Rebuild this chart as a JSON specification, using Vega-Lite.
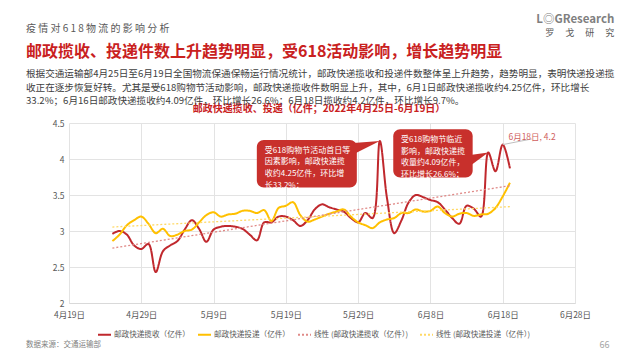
{
  "$schema": "https://vega.github.io/schema/vega-lite/v6.json",
  "background": "white",
  "padding": {"left": 26, "top": 13, "right": 0, "bottom": 0},
  "config": {
    "font": "Noto Sans CJK SC",
    "view": {"stroke": null},
    "concat": {"spacing": 0},
    "title": {"font": "Noto Sans CJK SC", "subtitleFont": "Noto Sans CJK SC"}
  },
  "title": {"text": "L◎GResearch", "subtitle": "罗　 戈　 研　 究", "anchor": "end", "frame": "bounds", "fontSize": 11.5, "color": "#7f7f7f", "fontWeight": "bold", "subtitleFontSize": 9, "subtitleColor": "#595959", "subtitlePadding": 4, "offset": 0, "dy": 14},
  "vconcat": [{
    "title": {"text": "66", "orient": "bottom", "anchor": "end", "frame": "bounds", "fontSize": 9, "color": "#a6a6a6", "fontWeight": "normal", "offset": 0, "dy": -8, "dx": -5},
    "vconcat": [{
      "title": {"text": "数据来源：交通运输部", "orient": "bottom", "anchor": "start", "frame": "bounds", "fontSize": 7.5, "color": "#7f7f7f", "fontWeight": "normal", "offset": 2},
      "vconcat": [{
        "title": {"text": "疫 情 对 6 1 8 物 流 的 影 响 分 析", "subtitle": "邮政揽收、投递件数上升趋势明显，受618活动影响，增长趋势明显", "anchor": "start", "frame": "bounds", "fontSize": 10, "color": "#595959", "fontWeight": "normal", "subtitleFontSize": 16, "subtitleFontWeight": "bold", "subtitleColor": "#c9211e", "subtitlePadding": 10, "offset": 9},
        "vconcat": [{
          "title": {"text": ["根据交通运输部4月25日至6月19日全国物流保通保畅运行情况统计，邮政快递揽收和投递件数整体呈上升趋势，趋势明显，表明快递投递揽", "收正在逐步恢复好转。尤其是受618购物节活动影响，邮政快递揽收件数明显上升，其中，6月1日邮政快递揽收约4.25亿件，环比增长", "33.2%；6月16日邮政快递揽收约4.09亿件，环比增长26.6%；6月18日揽收约4.2亿件，环比增长9.7%。"], "anchor": "start", "frame": "bounds", "fontSize": 9.6, "color": "#404040", "fontWeight": "normal", "lineHeight": 13.5, "offset": -2},
          "resolve": {"scale": {"color": "independent", "strokeDash": "independent"}},
          "vconcat": [{
            "width": 506,
            "height": 180,
            "title": {"text": "邮政快递揽收、投递（亿件；2022年4月25日-6月19日）", "fontSize": 10, "fontWeight": "bold", "color": "#c9211e", "anchor": "middle", "frame": "group", "offset": 5, "dx": -3},
            "data": {
              "format": {"parse": {"date": "date"}},
              "values": [
                {"date": "2022-04-25", "series": "邮政快递揽收（亿件）", "trend": "线性 (邮政快递揽收（亿件）)", "value": 2.96},
                {"date": "2022-04-26", "series": "邮政快递揽收（亿件）", "trend": "线性 (邮政快递揽收（亿件）)", "value": 3.0},
                {"date": "2022-04-27", "series": "邮政快递揽收（亿件）", "trend": "线性 (邮政快递揽收（亿件）)", "value": 2.95},
                {"date": "2022-04-28", "series": "邮政快递揽收（亿件）", "trend": "线性 (邮政快递揽收（亿件）)", "value": 2.8},
                {"date": "2022-04-29", "series": "邮政快递揽收（亿件）", "trend": "线性 (邮政快递揽收（亿件）)", "value": 2.75},
                {"date": "2022-04-30", "series": "邮政快递揽收（亿件）", "trend": "线性 (邮政快递揽收（亿件）)", "value": 2.82},
                {"date": "2022-05-01", "series": "邮政快递揽收（亿件）", "trend": "线性 (邮政快递揽收（亿件）)", "value": 2.43},
                {"date": "2022-05-02", "series": "邮政快递揽收（亿件）", "trend": "线性 (邮政快递揽收（亿件）)", "value": 2.72},
                {"date": "2022-05-03", "series": "邮政快递揽收（亿件）", "trend": "线性 (邮政快递揽收（亿件）)", "value": 2.8},
                {"date": "2022-05-04", "series": "邮政快递揽收（亿件）", "trend": "线性 (邮政快递揽收（亿件）)", "value": 2.86},
                {"date": "2022-05-05", "series": "邮政快递揽收（亿件）", "trend": "线性 (邮政快递揽收（亿件）)", "value": 3.02},
                {"date": "2022-05-06", "series": "邮政快递揽收（亿件）", "trend": "线性 (邮政快递揽收（亿件）)", "value": 3.15},
                {"date": "2022-05-07", "series": "邮政快递揽收（亿件）", "trend": "线性 (邮政快递揽收（亿件）)", "value": 3.03},
                {"date": "2022-05-08", "series": "邮政快递揽收（亿件）", "trend": "线性 (邮政快递揽收（亿件）)", "value": 2.85},
                {"date": "2022-05-09", "series": "邮政快递揽收（亿件）", "trend": "线性 (邮政快递揽收（亿件）)", "value": 3.02},
                {"date": "2022-05-10", "series": "邮政快递揽收（亿件）", "trend": "线性 (邮政快递揽收（亿件）)", "value": 3.06},
                {"date": "2022-05-11", "series": "邮政快递揽收（亿件）", "trend": "线性 (邮政快递揽收（亿件）)", "value": 3.07},
                {"date": "2022-05-12", "series": "邮政快递揽收（亿件）", "trend": "线性 (邮政快递揽收（亿件）)", "value": 3.06},
                {"date": "2022-05-13", "series": "邮政快递揽收（亿件）", "trend": "线性 (邮政快递揽收（亿件）)", "value": 3.03},
                {"date": "2022-05-14", "series": "邮政快递揽收（亿件）", "trend": "线性 (邮政快递揽收（亿件）)", "value": 2.95},
                {"date": "2022-05-15", "series": "邮政快递揽收（亿件）", "trend": "线性 (邮政快递揽收（亿件）)", "value": 2.87},
                {"date": "2022-05-16", "series": "邮政快递揽收（亿件）", "trend": "线性 (邮政快递揽收（亿件）)", "value": 3.12},
                {"date": "2022-05-17", "series": "邮政快递揽收（亿件）", "trend": "线性 (邮政快递揽收（亿件）)", "value": 3.12},
                {"date": "2022-05-18", "series": "邮政快递揽收（亿件）", "trend": "线性 (邮政快递揽收（亿件）)", "value": 3.2},
                {"date": "2022-05-19", "series": "邮政快递揽收（亿件）", "trend": "线性 (邮政快递揽收（亿件）)", "value": 3.2},
                {"date": "2022-05-20", "series": "邮政快递揽收（亿件）", "trend": "线性 (邮政快递揽收（亿件）)", "value": 3.15},
                {"date": "2022-05-21", "series": "邮政快递揽收（亿件）", "trend": "线性 (邮政快递揽收（亿件）)", "value": 3.07},
                {"date": "2022-05-22", "series": "邮政快递揽收（亿件）", "trend": "线性 (邮政快递揽收（亿件）)", "value": 3.15},
                {"date": "2022-05-23", "series": "邮政快递揽收（亿件）", "trend": "线性 (邮政快递揽收（亿件）)", "value": 3.3},
                {"date": "2022-05-24", "series": "邮政快递揽收（亿件）", "trend": "线性 (邮政快递揽收（亿件）)", "value": 3.37},
                {"date": "2022-05-25", "series": "邮政快递揽收（亿件）", "trend": "线性 (邮政快递揽收（亿件）)", "value": 3.33},
                {"date": "2022-05-26", "series": "邮政快递揽收（亿件）", "trend": "线性 (邮政快递揽收（亿件）)", "value": 3.3},
                {"date": "2022-05-27", "series": "邮政快递揽收（亿件）", "trend": "线性 (邮政快递揽收（亿件）)", "value": 3.27},
                {"date": "2022-05-28", "series": "邮政快递揽收（亿件）", "trend": "线性 (邮政快递揽收（亿件）)", "value": 3.18},
                {"date": "2022-05-29", "series": "邮政快递揽收（亿件）", "trend": "线性 (邮政快递揽收（亿件）)", "value": 3.12},
                {"date": "2022-05-30", "series": "邮政快递揽收（亿件）", "trend": "线性 (邮政快递揽收（亿件）)", "value": 3.25},
                {"date": "2022-05-31", "series": "邮政快递揽收（亿件）", "trend": "线性 (邮政快递揽收（亿件）)", "value": 3.18},
                {"date": "2022-06-01", "series": "邮政快递揽收（亿件）", "trend": "线性 (邮政快递揽收（亿件）)", "value": 4.25},
                {"date": "2022-06-02", "series": "邮政快递揽收（亿件）", "trend": "线性 (邮政快递揽收（亿件）)", "value": 3.45},
                {"date": "2022-06-03", "series": "邮政快递揽收（亿件）", "trend": "线性 (邮政快递揽收（亿件）)", "value": 2.97},
                {"date": "2022-06-04", "series": "邮政快递揽收（亿件）", "trend": "线性 (邮政快递揽收（亿件）)", "value": 3.15},
                {"date": "2022-06-05", "series": "邮政快递揽收（亿件）", "trend": "线性 (邮政快递揽收（亿件）)", "value": 3.4},
                {"date": "2022-06-06", "series": "邮政快递揽收（亿件）", "trend": "线性 (邮政快递揽收（亿件）)", "value": 3.5},
                {"date": "2022-06-07", "series": "邮政快递揽收（亿件）", "trend": "线性 (邮政快递揽收（亿件）)", "value": 3.47},
                {"date": "2022-06-08", "series": "邮政快递揽收（亿件）", "trend": "线性 (邮政快递揽收（亿件）)", "value": 3.43},
                {"date": "2022-06-09", "series": "邮政快递揽收（亿件）", "trend": "线性 (邮政快递揽收（亿件）)", "value": 3.4},
                {"date": "2022-06-10", "series": "邮政快递揽收（亿件）", "trend": "线性 (邮政快递揽收（亿件）)", "value": 3.3},
                {"date": "2022-06-11", "series": "邮政快递揽收（亿件）", "trend": "线性 (邮政快递揽收（亿件）)", "value": 3.18},
                {"date": "2022-06-12", "series": "邮政快递揽收（亿件）", "trend": "线性 (邮政快递揽收（亿件）)", "value": 3.1},
                {"date": "2022-06-13", "series": "邮政快递揽收（亿件）", "trend": "线性 (邮政快递揽收（亿件）)", "value": 3.35},
                {"date": "2022-06-14", "series": "邮政快递揽收（亿件）", "trend": "线性 (邮政快递揽收（亿件）)", "value": 3.31},
                {"date": "2022-06-15", "series": "邮政快递揽收（亿件）", "trend": "线性 (邮政快递揽收（亿件）)", "value": 3.2},
                {"date": "2022-06-16", "series": "邮政快递揽收（亿件）", "trend": "线性 (邮政快递揽收（亿件）)", "value": 4.09},
                {"date": "2022-06-17", "series": "邮政快递揽收（亿件）", "trend": "线性 (邮政快递揽收（亿件）)", "value": 3.83},
                {"date": "2022-06-18", "series": "邮政快递揽收（亿件）", "trend": "线性 (邮政快递揽收（亿件）)", "value": 4.2},
                {"date": "2022-06-19", "series": "邮政快递揽收（亿件）", "trend": "线性 (邮政快递揽收（亿件）)", "value": 3.87},
                {"date": "2022-04-25", "series": "邮政快递投递（亿件）", "trend": "线性 (邮政快递投递（亿件）)", "value": 2.86},
                {"date": "2022-04-26", "series": "邮政快递投递（亿件）", "trend": "线性 (邮政快递投递（亿件）)", "value": 2.95},
                {"date": "2022-04-27", "series": "邮政快递投递（亿件）", "trend": "线性 (邮政快递投递（亿件）)", "value": 3.08},
                {"date": "2022-04-28", "series": "邮政快递投递（亿件）", "trend": "线性 (邮政快递投递（亿件）)", "value": 3.15},
                {"date": "2022-04-29", "series": "邮政快递投递（亿件）", "trend": "线性 (邮政快递投递（亿件）)", "value": 3.2},
                {"date": "2022-04-30", "series": "邮政快递投递（亿件）", "trend": "线性 (邮政快递投递（亿件）)", "value": 3.1},
                {"date": "2022-05-01", "series": "邮政快递投递（亿件）", "trend": "线性 (邮政快递投递（亿件）)", "value": 2.97},
                {"date": "2022-05-02", "series": "邮政快递投递（亿件）", "trend": "线性 (邮政快递投递（亿件）)", "value": 3.03},
                {"date": "2022-05-03", "series": "邮政快递投递（亿件）", "trend": "线性 (邮政快递投递（亿件）)", "value": 2.93},
                {"date": "2022-05-04", "series": "邮政快递投递（亿件）", "trend": "线性 (邮政快递投递（亿件）)", "value": 2.95},
                {"date": "2022-05-05", "series": "邮政快递投递（亿件）", "trend": "线性 (邮政快递投递（亿件）)", "value": 3.0},
                {"date": "2022-05-06", "series": "邮政快递投递（亿件）", "trend": "线性 (邮政快递投递（亿件）)", "value": 3.02},
                {"date": "2022-05-07", "series": "邮政快递投递（亿件）", "trend": "线性 (邮政快递投递（亿件）)", "value": 3.12},
                {"date": "2022-05-08", "series": "邮政快递投递（亿件）", "trend": "线性 (邮政快递投递（亿件）)", "value": 3.22},
                {"date": "2022-05-09", "series": "邮政快递投递（亿件）", "trend": "线性 (邮政快递投递（亿件）)", "value": 3.26},
                {"date": "2022-05-10", "series": "邮政快递投递（亿件）", "trend": "线性 (邮政快递投递（亿件）)", "value": 3.2},
                {"date": "2022-05-11", "series": "邮政快递投递（亿件）", "trend": "线性 (邮政快递投递（亿件）)", "value": 3.23},
                {"date": "2022-05-12", "series": "邮政快递投递（亿件）", "trend": "线性 (邮政快递投递（亿件）)", "value": 3.24},
                {"date": "2022-05-13", "series": "邮政快递投递（亿件）", "trend": "线性 (邮政快递投递（亿件）)", "value": 3.28},
                {"date": "2022-05-14", "series": "邮政快递投递（亿件）", "trend": "线性 (邮政快递投递（亿件）)", "value": 3.28},
                {"date": "2022-05-15", "series": "邮政快递投递（亿件）", "trend": "线性 (邮政快递投递（亿件）)", "value": 3.25},
                {"date": "2022-05-16", "series": "邮政快递投递（亿件）", "trend": "线性 (邮政快递投递（亿件）)", "value": 3.29},
                {"date": "2022-05-17", "series": "邮政快递投递（亿件）", "trend": "线性 (邮政快递投递（亿件）)", "value": 3.14},
                {"date": "2022-05-18", "series": "邮政快递投递（亿件）", "trend": "线性 (邮政快递投递（亿件）)", "value": 3.32},
                {"date": "2022-05-19", "series": "邮政快递投递（亿件）", "trend": "线性 (邮政快递投递（亿件）)", "value": 3.35},
                {"date": "2022-05-20", "series": "邮政快递投递（亿件）", "trend": "线性 (邮政快递投递（亿件）)", "value": 3.4},
                {"date": "2022-05-21", "series": "邮政快递投递（亿件）", "trend": "线性 (邮政快递投递（亿件）)", "value": 3.22},
                {"date": "2022-05-22", "series": "邮政快递投递（亿件）", "trend": "线性 (邮政快递投递（亿件）)", "value": 3.13},
                {"date": "2022-05-23", "series": "邮政快递投递（亿件）", "trend": "线性 (邮政快递投递（亿件）)", "value": 3.16},
                {"date": "2022-05-24", "series": "邮政快递投递（亿件）", "trend": "线性 (邮政快递投递（亿件）)", "value": 3.2},
                {"date": "2022-05-25", "series": "邮政快递投递（亿件）", "trend": "线性 (邮政快递投递（亿件）)", "value": 3.24},
                {"date": "2022-05-26", "series": "邮政快递投递（亿件）", "trend": "线性 (邮政快递投递（亿件）)", "value": 3.27},
                {"date": "2022-05-27", "series": "邮政快递投递（亿件）", "trend": "线性 (邮政快递投递（亿件）)", "value": 3.3},
                {"date": "2022-05-28", "series": "邮政快递投递（亿件）", "trend": "线性 (邮政快递投递（亿件）)", "value": 3.2},
                {"date": "2022-05-29", "series": "邮政快递投递（亿件）", "trend": "线性 (邮政快递投递（亿件）)", "value": 3.12},
                {"date": "2022-05-30", "series": "邮政快递投递（亿件）", "trend": "线性 (邮政快递投递（亿件）)", "value": 3.08},
                {"date": "2022-05-31", "series": "邮政快递投递（亿件）", "trend": "线性 (邮政快递投递（亿件）)", "value": 3.04},
                {"date": "2022-06-01", "series": "邮政快递投递（亿件）", "trend": "线性 (邮政快递投递（亿件）)", "value": 3.12},
                {"date": "2022-06-02", "series": "邮政快递投递（亿件）", "trend": "线性 (邮政快递投递（亿件）)", "value": 3.16},
                {"date": "2022-06-03", "series": "邮政快递投递（亿件）", "trend": "线性 (邮政快递投递（亿件）)", "value": 3.18},
                {"date": "2022-06-04", "series": "邮政快递投递（亿件）", "trend": "线性 (邮政快递投递（亿件）)", "value": 3.25},
                {"date": "2022-06-05", "series": "邮政快递投递（亿件）", "trend": "线性 (邮政快递投递（亿件）)", "value": 3.25},
                {"date": "2022-06-06", "series": "邮政快递投递（亿件）", "trend": "线性 (邮政快递投递（亿件）)", "value": 3.3},
                {"date": "2022-06-07", "series": "邮政快递投递（亿件）", "trend": "线性 (邮政快递投递（亿件）)", "value": 3.27},
                {"date": "2022-06-08", "series": "邮政快递投递（亿件）", "trend": "线性 (邮政快递投递（亿件）)", "value": 3.28},
                {"date": "2022-06-09", "series": "邮政快递投递（亿件）", "trend": "线性 (邮政快递投递（亿件）)", "value": 3.34},
                {"date": "2022-06-10", "series": "邮政快递投递（亿件）", "trend": "线性 (邮政快递投递（亿件）)", "value": 3.25},
                {"date": "2022-06-11", "series": "邮政快递投递（亿件）", "trend": "线性 (邮政快递投递（亿件）)", "value": 3.2},
                {"date": "2022-06-12", "series": "邮政快递投递（亿件）", "trend": "线性 (邮政快递投递（亿件）)", "value": 3.24},
                {"date": "2022-06-13", "series": "邮政快递投递（亿件）", "trend": "线性 (邮政快递投递（亿件）)", "value": 3.25},
                {"date": "2022-06-14", "series": "邮政快递投递（亿件）", "trend": "线性 (邮政快递投递（亿件）)", "value": 3.21},
                {"date": "2022-06-15", "series": "邮政快递投递（亿件）", "trend": "线性 (邮政快递投递（亿件）)", "value": 3.23},
                {"date": "2022-06-16", "series": "邮政快递投递（亿件）", "trend": "线性 (邮政快递投递（亿件）)", "value": 3.24},
                {"date": "2022-06-17", "series": "邮政快递投递（亿件）", "trend": "线性 (邮政快递投递（亿件）)", "value": 3.32},
                {"date": "2022-06-18", "series": "邮政快递投递（亿件）", "trend": "线性 (邮政快递投递（亿件）)", "value": 3.48},
                {"date": "2022-06-19", "series": "邮政快递投递（亿件）", "trend": "线性 (邮政快递投递（亿件）)", "value": 3.67}
              ]
            },
            "encoding": {
              "x": {"field": "date", "type": "temporal", "title": null,
                "scale": {"type": "utc", "nice": false, "domain": [{"year": 2022, "month": 4, "date": 19, "utc": true}, {"year": 2022, "month": 6, "date": 28, "utc": true}]},
                "axis": {"values": [{"year": 2022, "month": 4, "date": 19, "utc": true}, {"year": 2022, "month": 4, "date": 29, "utc": true}, {"year": 2022, "month": 5, "date": 9, "utc": true}, {"year": 2022, "month": 5, "date": 19, "utc": true}, {"year": 2022, "month": 5, "date": 29, "utc": true}, {"year": 2022, "month": 6, "date": 8, "utc": true}, {"year": 2022, "month": 6, "date": 18, "utc": true}, {"year": 2022, "month": 6, "date": 28, "utc": true}],
                  "format": "%-m月%-d日", "labelFlush": false, "labelOverlap": false, "labelFontSize": 8.5, "labelColor": "#595959", "domainColor": "#d9d9d9", "ticks": false, "gridColor": "#e3e3e3", "labelPadding": 7, "labelFont": "Noto Sans CJK SC"}},
              "y": {"field": "value", "type": "quantitative", "title": null,
                "scale": {"domain": [2, 4.5], "nice": false},
                "axis": {"values": [2, 2.5, 3, 3.5, 4, 4.5], "format": "~f", "labelOverlap": false, "labelFontSize": 8.5, "labelColor": "#595959", "domain": false, "ticks": false, "gridColor": "#e3e3e3", "labelPadding": 5, "minExtent": 43, "maxExtent": 43}}
            },
            "layer": [
              {
                "mark": {"type": "line", "interpolate": "catmull-rom", "strokeWidth": 2},
                "encoding": {
                  "color": {"field": "series", "type": "nominal",
                    "scale": {"domain": ["邮政快递揽收（亿件）", "邮政快递投递（亿件）", "线性 (邮政快递揽收（亿件）)", "线性 (邮政快递投递（亿件）)"], "range": ["#c0282d", "#ffc000", "#e08a88", "#ffd966"]},
                    "legend": {"orient": "none", "legendX": 28, "legendY": 204, "direction": "horizontal", "title": null, "symbolType": "stroke", "symbolSize": 169, "symbolStrokeWidth": 2, "labelFontSize": 7.6, "labelColor": "#595959", "labelOffset": 2, "columnPadding": 4, "padding": 0}},
                  "strokeDash": {"field": "series", "type": "nominal",
                    "scale": {"domain": ["邮政快递揽收（亿件）", "邮政快递投递（亿件）", "线性 (邮政快递揽收（亿件）)", "线性 (邮政快递投递（亿件）)"], "range": [[1, 0], [1, 0], [2, 2], [2, 2]]},
                    "legend": {"orient": "none", "legendX": 28, "legendY": 204, "direction": "horizontal", "title": null, "symbolType": "stroke", "symbolSize": 169, "symbolStrokeWidth": 2, "labelFontSize": 7.6, "labelColor": "#595959", "labelOffset": 2, "columnPadding": 4, "padding": 0}}
                }
              },
              {
                "transform": [{"regression": "value", "on": "date", "groupby": ["trend"]}],
                "mark": {"type": "line", "strokeWidth": 1.3},
                "encoding": {
                  "color": {"field": "trend", "type": "nominal"},
                  "strokeDash": {"field": "trend", "type": "nominal"}
                }
              },
              {
                "data": {"values": [{"date": "2022-06-01", "value": 4.25, "note": "受618购物节活动首日等\n因素影响，邮政快递揽\n收约4.25亿件，环比增\n长33.2%；"}]},
                "layer": [
                  {
                    "mark": {"type": "rect", "cornerRadius": 7, "color": "#c8302c", "xOffset": -123, "x2Offset": -23, "yOffset": -1, "y2Offset": 46.6},
                    "encoding": {"x2": {"field": "date"}, "y2": {"field": "value"}}
                  },
                  {
                    "mark": {"type": "point", "filled": true, "opacity": 1, "shape": "M0,0L-1.1,0.08L-1.1,0.55Z", "size": 2304, "color": "#c8302c", "strokeWidth": 0},
                    "encoding": {}
                  },
                  {
                    "mark": {"type": "text", "align": "left", "baseline": "middle", "dx": -115, "dy": 9.6, "fontSize": 8, "lineHeight": 11.7, "color": "white", "lineBreak": "\n"},
                    "encoding": {"text": {"field": "note"}}
                  }
                ]
              },
              {
                "data": {"values": [{"date": "2022-06-16", "value": 4.09, "note": "受618购物节临近\n影响，邮政快递揽\n收量约4.09亿件，\n环比增长26.6%；"}]},
                "layer": [
                  {
                    "mark": {"type": "rect", "cornerRadius": 7, "color": "#c8302c", "xOffset": -95, "x2Offset": -15.6, "yOffset": -23.3, "y2Offset": 25},
                    "encoding": {"x2": {"field": "date"}, "y2": {"field": "value"}}
                  },
                  {
                    "mark": {"type": "point", "filled": true, "opacity": 1, "shape": "M0,0L-0.75,0.1L-0.75,0.55Z", "size": 2304, "color": "#c8302c", "strokeWidth": 0},
                    "encoding": {}
                  },
                  {
                    "mark": {"type": "text", "align": "left", "baseline": "middle", "dx": -87.3, "dy": -12.6, "fontSize": 8, "lineHeight": 11.7, "color": "white", "lineBreak": "\n"},
                    "encoding": {"text": {"field": "note"}}
                  }
                ]
              },
              {
                "data": {"values": [{"date": "2022-06-18", "value": 4.2, "label": "6月18日, 4.2"}]},
                "layer": [
                  {
                    "mark": {"type": "rule", "color": "#bfbfbf", "strokeWidth": 1, "x2Offset": 29, "y2Offset": -5.6},
                    "encoding": {"x2": {"field": "date"}, "y2": {"field": "value"}}
                  },
                  {
                    "mark": {"type": "text", "align": "left", "baseline": "middle", "dx": 5.7, "dy": -8, "fontSize": 8.5, "color": "#d0605e"},
                    "encoding": {"text": {"field": "label"}}
                  }
                ]
              }
            ]
          }]
        }]
      }]
    }]
  }]
}
